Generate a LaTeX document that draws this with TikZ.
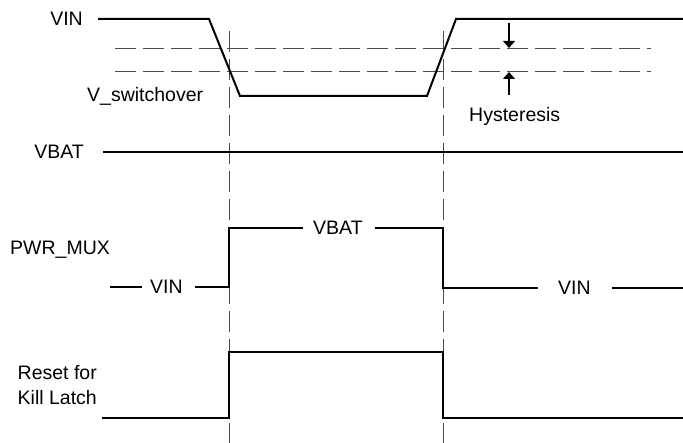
\documentclass[tikz,border=0pt]{standalone}
\usepackage{fontspec}
\setmainfont{Liberation Sans}
\usetikzlibrary{arrows.meta}
\begin{document}
\begin{tikzpicture}[x=1pt,y=-1pt,
  wave/.style={line width=2pt,line join=miter},
  guide/.style={line width=1pt,black!70,dash pattern=on 21pt off 7pt},
  lbl/.style={inner sep=0pt,font=\fontsize{19.5}{24}\selectfont},
  harrow/.style={line width=1.2pt,-{Triangle[length=7pt,width=12pt]}}]
\useasboundingbox (0,0) rectangle (683,443);
% guides
\draw[guide] (115,49) -- (651,49);
\draw[guide] (115,72) -- (651,72);
\draw[guide] (229,31) -- (229,443);
\draw[guide] (443,31) -- (443,443);
% VIN waveform
\node[lbl,anchor=base east] (vin) at (83,26) {VIN};
\draw[wave] (98,19) -- (209,19) -- (240,96) -- (427,96) -- (456,19) -- (683,19);
\node[lbl,anchor=base west] (vsw) at (87,102) {V\_switchover};
% hysteresis
\coordinate (h1) at (509,23);
\coordinate (h1t) at (509,48);
\coordinate (h2) at (509,95);
\coordinate (h2t) at (509,72);
\draw[harrow] (h1) -- (h1t);
\draw[harrow] (h2) -- (h2t);
\node[lbl,anchor=base west] (hys) at (469,122) {Hysteresis};
% VBAT
\node[lbl,anchor=base east] (vbat) at (84,159) {VBAT};
\draw[wave] (103,152) -- (683,152);
% PWR_MUX
\node[lbl,anchor=base west] (pm) at (10,255) {PWR\_MUX};
\node[lbl,anchor=base west] (pv1) at (150,294) {VIN};
\node[lbl,anchor=base west] (pvb) at (313,235) {VBAT};
\node[lbl,anchor=base west] (pv2) at (558,295) {VIN};
\draw[wave] (110,287) -- (142,287);
\draw[wave] (195,287) -- (229,287) -- (229,228) -- (303,228);
\draw[wave] (375,228) -- (443,228) -- (443,288) -- (538,288);
\draw[wave] (612,288) -- (683,288);
% Reset
\node[lbl,anchor=base east] (rs1) at (97,380) {Reset for};
\node[lbl,anchor=base east] (rs2) at (97,405) {Kill Latch};
\draw[wave] (102,418) -- (229,418) -- (229,352) -- (443,352) -- (443,418) -- (683,418);
\end{tikzpicture}
\end{document}
